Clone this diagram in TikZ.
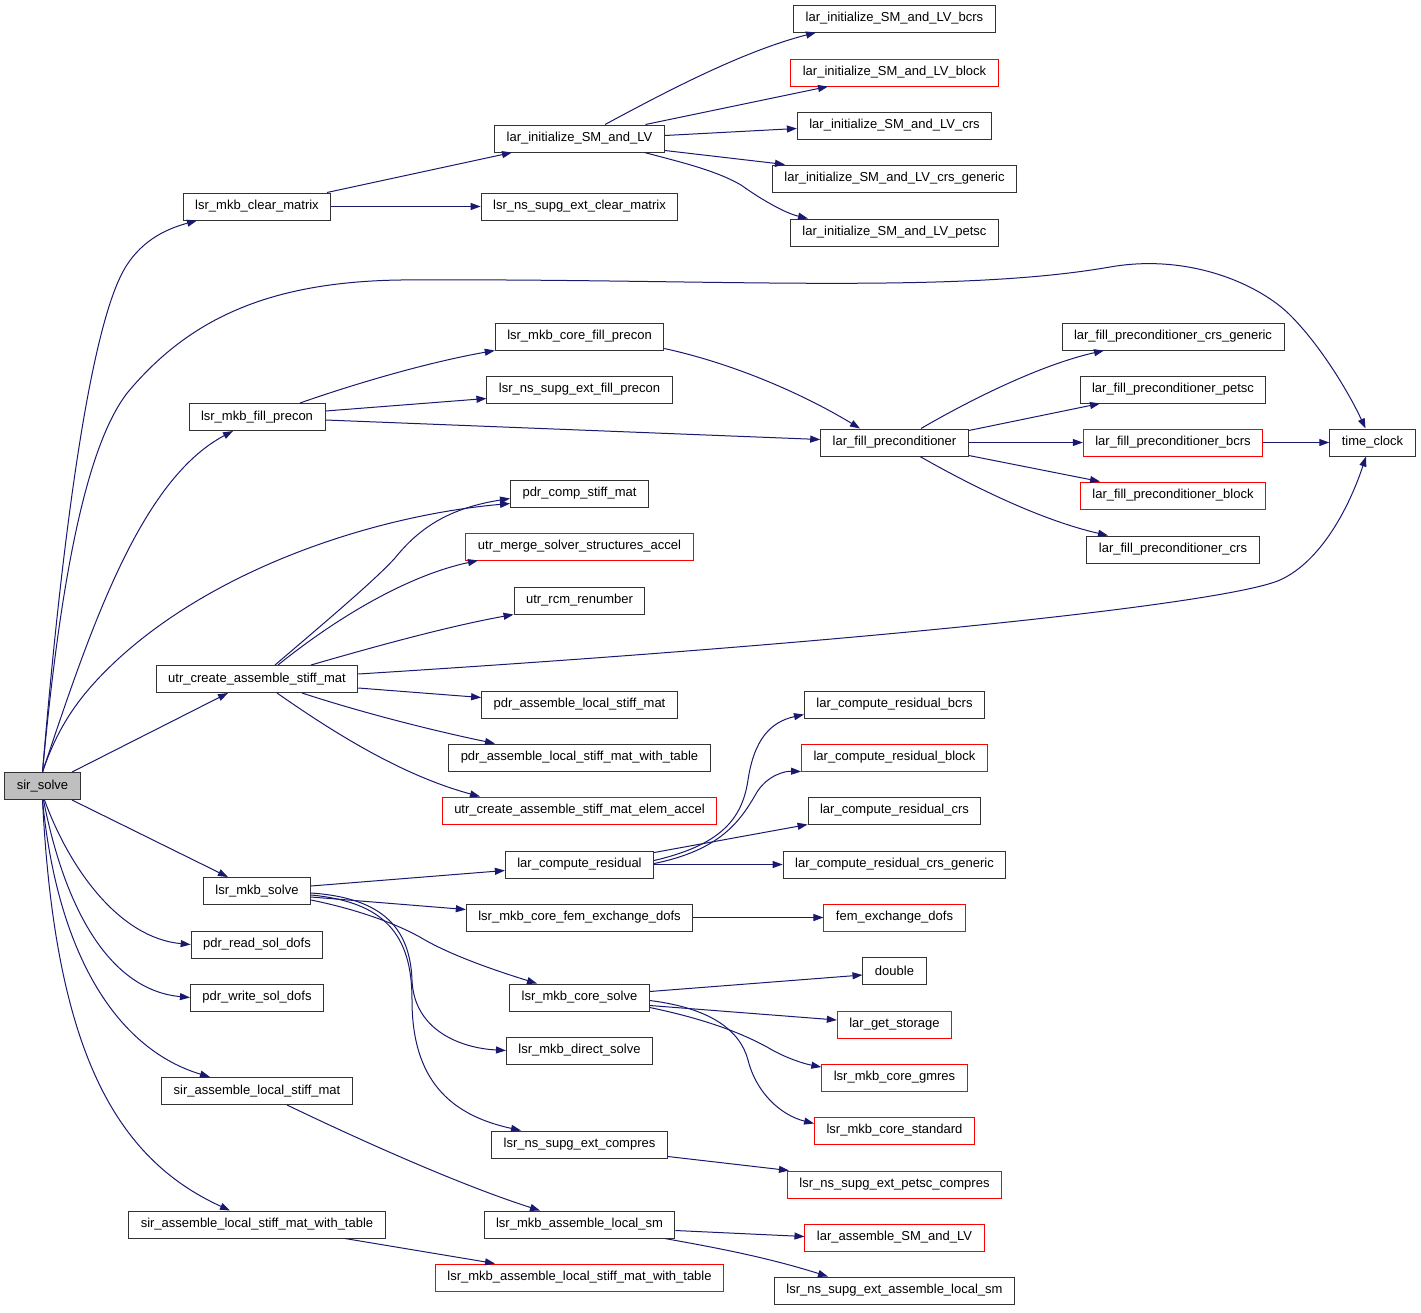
\documentclass[tikz,border=0pt]{standalone}
\usepackage{fontspec}
\setmainfont{Liberation Sans}
\usetikzlibrary{arrows.meta,calc}
\definecolor{edgec}{HTML}{191970}
\definecolor{boxline}{HTML}{333333}
\definecolor{sirfill}{HTML}{BFBFBF}
\tikzset{
  box/.style={draw=boxline, fill=white, line width=1pt, minimum height=27pt, inner xsep=12pt, inner ysep=0pt, font=\fontsize{13pt}{15pt}\selectfont, anchor=center},
  redbox/.style={box, draw=red},
  e/.style={draw=edgec, line width=1pt, -{Triangle[length=10pt,width=7pt]}}
}
\begin{document}
\begin{tikzpicture}[x=1pt,y=-1pt]
\fill[white] (0,0) rectangle (1421,1312);
\useasboundingbox (0,0) rectangle (1421,1312);
% column 0
\node[box, fill=sirfill] (sir) at (42.5,786) {sir\_solve};
% column 1
\node[box] (clear) at (257,206.5) {lsr\_mkb\_clear\_matrix};
\node[box] (fill) at (257,417) {lsr\_mkb\_fill\_precon};
\node[box] (utr) at (257,679) {utr\_create\_assemble\_stiff\_mat};
\node[box] (mkbsolve) at (257,891) {lsr\_mkb\_solve};
\node[box] (readsol) at (257,944.5) {pdr\_read\_sol\_dofs};
\node[box] (writesol) at (257,997.5) {pdr\_write\_sol\_dofs};
\node[box] (sirasm) at (257,1091) {sir\_assemble\_local\_stiff\_mat};
\node[box] (sirasmwt) at (257,1224.5) {sir\_assemble\_local\_stiff\_mat\_with\_table};
% column 2
\node[box] (laril) at (579.5,138.5) {lar\_initialize\_SM\_and\_LV};
\node[box] (clearns) at (579.5,206.5) {lsr\_ns\_supg\_ext\_clear\_matrix};
\node[box] (corefill) at (579.5,336.5) {lsr\_mkb\_core\_fill\_precon};
\node[box] (nsfill) at (579.5,389.5) {lsr\_ns\_supg\_ext\_fill\_precon};
\node[box] (compstiff) at (579.5,493.5) {pdr\_comp\_stiff\_mat};
\node[redbox] (merge) at (579.5,546.5) {utr\_merge\_solver\_structures\_accel};
\node[box] (rcm) at (579.5,600.5) {utr\_rcm\_renumber};
\node[box] (pdrasm) at (579.5,704.5) {pdr\_assemble\_local\_stiff\_mat};
\node[box] (pdrasmwt) at (579.5,757.5) {pdr\_assemble\_local\_stiff\_mat\_with\_table};
\node[redbox] (elemaccel) at (579.5,810.5) {utr\_create\_assemble\_stiff\_mat\_elem\_accel};
\node[box] (compres) at (579.5,864.5) {lar\_compute\_residual};
\node[box] (femex) at (579.5,917.5) {lsr\_mkb\_core\_fem\_exchange\_dofs};
\node[box] (coresolve) at (579.5,997.5) {lsr\_mkb\_core\_solve};
\node[box] (direct) at (579.5,1050.5) {lsr\_mkb\_direct\_solve};
\node[box] (nscompres) at (579.5,1144.5) {lsr\_ns\_supg\_ext\_compres};
\node[box] (mkbasm) at (579.5,1224.5) {lsr\_mkb\_assemble\_local\_sm};
\node[redbox] (mkbasmwt) at (579.5,1277.5) {lsr\_mkb\_assemble\_local\_stiff\_mat\_with\_table};
% column 3
\node[box] (ilbcrs) at (894.5,18.5) {lar\_initialize\_SM\_and\_LV\_bcrs};
\node[redbox] (ilblock) at (894.5,72.5) {lar\_initialize\_SM\_and\_LV\_block};
\node[box] (ilcrs) at (894.5,125.5) {lar\_initialize\_SM\_and\_LV\_crs};
\node[box] (ilgen) at (894.5,178.5) {lar\_initialize\_SM\_and\_LV\_crs\_generic};
\node[box] (ilpetsc) at (894.5,232.5) {lar\_initialize\_SM\_and\_LV\_petsc};
\node[box] (larfillprec) at (894.5,442.5) {lar\_fill\_preconditioner};
\node[box] (crbcrs) at (894.5,704.5) {lar\_compute\_residual\_bcrs};
\node[redbox] (crblock) at (894.5,757.5) {lar\_compute\_residual\_block};
\node[box] (crcrs) at (894.5,810.5) {lar\_compute\_residual\_crs};
\node[box] (crgen) at (894.5,864.5) {lar\_compute\_residual\_crs\_generic};
\node[redbox] (femdofs) at (894.5,917.5) {fem\_exchange\_dofs};
\node[box] (dbl) at (894.5,970.5) {double};
\node[redbox] (getstorage) at (894.5,1024.5) {lar\_get\_storage};
\node[redbox] (gmres) at (894.5,1077.5) {lsr\_mkb\_core\_gmres};
\node[redbox] (standard) at (894.5,1130.5) {lsr\_mkb\_core\_standard};
\node[redbox] (petsccompres) at (894.5,1184.5) {lsr\_ns\_supg\_ext\_petsc\_compres};
\node[redbox] (assembleSM) at (894.5,1237.5) {lar\_assemble\_SM\_and\_LV};
\node[box] (nsasmlocal) at (894.5,1290.5) {lsr\_ns\_supg\_ext\_assemble\_local\_sm};
% column 4
\node[box] (fpgen) at (1173,336.5) {lar\_fill\_preconditioner\_crs\_generic};
\node[box] (fppetsc) at (1173,389.5) {lar\_fill\_preconditioner\_petsc};
\node[redbox] (fpbcrs) at (1173,442.5) {lar\_fill\_preconditioner\_bcrs};
\node[redbox] (fpblock) at (1173,495.5) {lar\_fill\_preconditioner\_block};
\node[box] (fpcrs) at (1173,549.5) {lar\_fill\_preconditioner\_crs};
% column 5
\node[box] (tclock) at (1372.5,442.5) {time\_clock};

% edges from sir_solve
\draw[e] (sir.north) .. controls (60,560) and (88,330) .. (125,268) .. controls (143,238) and (170,228) .. ($(clear.south)+(-60,0)$);
\draw[e] (sir.north) .. controls (62,560) and (90,440) .. (128,392) .. controls (190,318) and (270,282) .. (400,280) .. controls (700,278) and (950,295) .. (1110,267) .. controls (1190,253) and (1260,285) .. (1290,315) .. controls (1322,347) and (1350,395) .. ($(tclock.north)+(-7,0)$);
\draw[e] (sir.north) .. controls (90,630) and (140,480) .. ($(fill.south)+(-24,0)$);
\draw[e] (sir.north) .. controls (60,720) and (85,690) .. (117,660) .. controls (220,565) and (380,515) .. ($(compstiff.west)+(0,10)$);
\draw[e] ($(sir.north)+(29.5,0)$) -- ($(utr.south)+(-29,0)$);
\draw[e] ($(sir.south)+(29.5,0)$) -- ($(mkbsolve.north)+(-29,0)$);
\draw[e] ($(sir.south)+(2,0)$) .. controls (70,870) and (120,938) .. (readsol.west);
\draw[e] ($(sir.south)+(1,0)$) .. controls (65,910) and (110,990) .. (writesol.west);
\draw[e] (sir.south) .. controls (58,960) and (120,1050) .. ($(sirasm.north)+(-47,0)$);
\draw[e] (sir.south) .. controls (55,1050) and (115,1158) .. ($(sirasmwt.north)+(-27,0)$);
% clear matrix
\draw[e] ($(clear.north)+(70,0)$) -- ($(laril.south)+(-67.5,0)$);
\draw[e] (clear.east) -- (clearns.west);
% initialize
\draw[e] ($(laril.north)+(25.5,0)$) .. controls (660,95) and (740,52) .. ($(ilbcrs.south)+(-78.5,0)$);
\draw[e] ($(laril.north)+(66,0)$) -- ($(ilblock.south)+(-66.5,0)$);
\draw[e] ($(laril.east)+(0,-3)$) -- ($(ilcrs.west)+(0,3)$);
\draw[e] ($(laril.east)+(0,12)$) -- ($(ilgen.north)+(-109.5,0)$);
\draw[e] ($(laril.south)+(65,0)$) .. controls (680,162) and (715,170) .. (741,185) .. controls (762,200) and (785,213) .. ($(ilpetsc.north)+(-86.5,0)$);
% fill precon
\draw[e] ($(fill.north)+(43,0)$) .. controls (360,382) and (430,362) .. (corefill.south west);
\draw[e] ($(fill.east)+(0,-6)$) -- ($(nsfill.west)+(0,9)$);
\draw[e] ($(fill.east)+(0,3)$) -- ($(larfillprec.west)+(0,-3)$);
\draw[e] ($(corefill.east)+(0,12)$) .. controls (740,365) and (810,398) .. ($(larfillprec.north)+(-34.5,0)$);
\draw[e] ($(larfillprec.north)+(26.5,0)$) .. controls (970,400) and (1040,365) .. ($(fpgen.south)+(-69,0)$);
\draw[e] ($(larfillprec.east)+(0,-12)$) -- ($(fppetsc.south)+(-73,0)$);
\draw[e] (larfillprec.east) -- (fpbcrs.west);
\draw[e] ($(larfillprec.east)+(0,13)$) -- ($(fpblock.north)+(-73,0)$);
\draw[e] ($(larfillprec.south)+(25.5,0)$) .. controls (970,485) and (1040,520) .. ($(fpcrs.north)+(-65,0)$);
\draw[e] (fpbcrs.east) -- (tclock.west);
% utr create
\draw[e] ($(utr.east)+(0,-5)$) .. controls (900,640) and (1230,602) .. (1280,580) .. controls (1322,561) and (1350,505) .. ($(tclock.south)+(-6.5,0)$);
\draw[e] ($(utr.north)+(18,0)$) .. controls (330,618) and (375,580) .. (395,558) .. controls (420,527) and (450,508) .. ($(compstiff.west)+(0,5)$);
\draw[e] ($(utr.north)+(21,0)$) .. controls (340,615) and (410,575) .. ($(merge.south)+(-101.5,0)$);
\draw[e] ($(utr.north)+(54,0)$) .. controls (380,645) and (450,626) .. (rcm.south west);
\draw[e] ($(utr.east)+(0,9)$) -- ($(pdrasm.west)+(0,-7)$);
\draw[e] ($(utr.south)+(45,0)$) .. controls (360,712) and (430,730) .. ($(pdrasmwt.north)+(-84.5,0)$);
\draw[e] ($(utr.south)+(20,0)$) .. controls (330,730) and (400,775) .. ($(elemaccel.north)+(-99.5,0)$);
% mkb solve
\draw[e] ($(mkbsolve.east)+(0,-5)$) -- ($(compres.west)+(0,6)$);
\draw[e] ($(mkbsolve.east)+(0,6)$) -- ($(femex.west)+(0,-8)$);
\draw[e] ($(mkbsolve.east)+(0,9)$) .. controls (360,910) and (400,925) .. (425,940) .. controls (455,957) and (500,972) .. ($(coresolve.north)+(-42.5,0)$);
\draw[e] ($(mkbsolve.east)+(0,2)$) .. controls (385,898) and (410,930) .. (412,980) .. controls (414,1030) and (460,1048) .. (direct.west);
\draw[e] ($(mkbsolve.east)+(0,4)$) .. controls (385,902) and (412,935) .. (412,1000) .. controls (412,1080) and (450,1115) .. ($(nscompres.north)+(-58.5,0)$);
% compute residual
\draw[e] ($(compres.east)+(0,-4)$) .. controls (720,845) and (742,820) .. (748,780) .. controls (754,740) and (770,722) .. ($(crbcrs.west)+(0,10)$);
\draw[e] ($(compres.east)+(0,-1)$) .. controls (720,850) and (740,822) .. (757,792) .. controls (768,775) and (785,771) .. (crblock.south west);
\draw[e] ($(compres.east)+(0,-12)$) -- (crcrs.south west);
\draw[e] (compres.east) -- (crgen.west);
\draw[e] (femex.east) -- (femdofs.west);
% core solve
\draw[e] ($(coresolve.east)+(0,-6)$) -- ($(dbl.west)+(0,4.5)$);
\draw[e] ($(coresolve.east)+(0,8)$) -- ($(getstorage.west)+(0,-4.5)$);
\draw[e] ($(coresolve.east)+(0,10)$) .. controls (710,1020) and (745,1035) .. (767,1047) .. controls (785,1058) and (805,1064) .. ($(gmres.west)+(0,-10.5)$);
\draw[e] ($(coresolve.east)+(0,3)$) .. controls (710,1008) and (740,1030) .. (748,1060) .. controls (756,1092) and (780,1115) .. ($(standard.west)+(0,-7)$);
\draw[e] ($(nscompres.east)+(0,12)$) -- ($(petsccompres.north west)+(2,0)$);
% assemble
\draw[e] ($(sirasm.south)+(30,0)$) .. controls (360,1140) and (460,1185) .. ($(mkbasm.north)+(-39.5,0)$);
\draw[e] ($(mkbasm.east)+(0,6)$) -- ($(assembleSM.west)+(0,-1)$);
\draw[e] ($(mkbasm.south)+(85.5,0)$) .. controls (700,1245) and (760,1255) .. ($(nsasmlocal.north)+(-66.5,0)$);
\draw[e] ($(sirasmwt.south)+(88,0)$) -- ($(mkbasmwt.north)+(-84.5,0)$);
\end{tikzpicture}
\end{document}
